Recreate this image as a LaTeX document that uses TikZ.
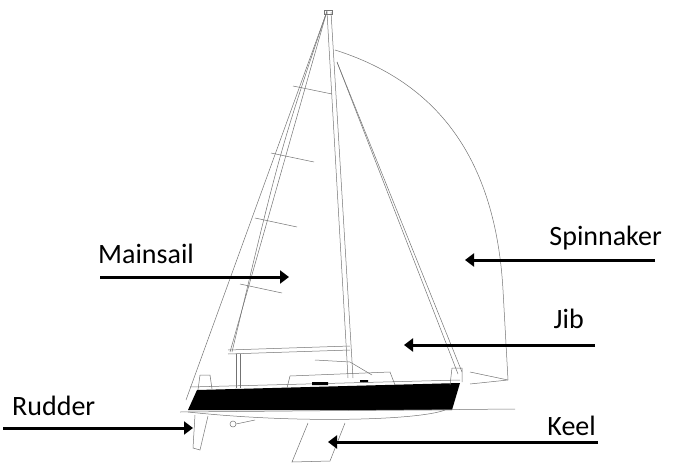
\documentclass[tikz,border=0pt]{standalone}
\usepackage{fontspec}
\setmainfont{Carlito}
\usetikzlibrary{arrows.meta}
\begin{document}
\begin{tikzpicture}[x=1pt,y=-1pt,
  thin line/.style={draw=black!55,line width=0.5pt},
  lab/.style={font=\fontsize{28}{30}\selectfont,inner sep=0pt},
  pointer/.style={line width=3pt,-{Triangle[length=9pt,width=13pt]}}]
\useasboundingbox (0,0) rectangle (677,471);
% masthead & mast
\coordinate (head) at (327,11);
\coordinate (jibhead) at (337,62);
\coordinate (spinhead) at (335,50);
\coordinate (bow) at (460,378);
\coordinate (stern) at (190,390);
\draw[thin line] (324,10) rectangle (332,14);
\draw[thin line] (327,12) -- (348,378) (331,12) -- (353,378);
% mainsail
\draw[thin line] (head) -- (230,352);
\draw[thin line] (head) .. controls (280,150) .. (232,352);
\draw[thin line] (326,14) -- (186,400);
\draw[thin line] (293,86) -- (332,94) (271,153) -- (314,162) (255,218) -- (297,227) (240,284) -- (282,293);
% boom
\draw[thin line] (228,350) -- (350,346) (228,354) -- (350,350);
\draw[thin line] (236,354) -- (236,388) (240,354) -- (240,388);
% jib / forestay
\draw[thin line] (jibhead) -- (462,372);
\draw[thin line] (jibhead) -- (458,374);
% spinnaker
\draw[thin line] (spinhead) .. controls (430,80) and (495,150) .. (503,290) -- (508,380);
\draw[thin line] (508,380) -- (470,372) (508,380) -- (470,384);
% hull
\fill (188,410) -- (197,390) -- (460,383) -- (452,410) -- cycle;
\draw[thin line] (190,387) -- (460,380);
\draw[thin line] (188,412) .. controls (300,424) and (420,420) .. (445,410);
\draw[thin line] (180,412) -- (515,409);
% cabin
\draw[thin line] (287,388) -- (290,376) -- (390,372) -- (395,385);
\fill (312,382) rectangle (328,385) (360,380) rectangle (368,382);
\draw[thin line] (315,360) -- (350,362) (350,362) -- (372,375);
% pulpits
\draw[thin line] (198,390) -- (200,375) -- (210,375) -- (212,389);
\draw[thin line] (450,385) -- (452,368) -- (462,368) -- (462,382);
% keel
\draw[thin line] (308,423) -- (292,462) -- (330,461) -- (345,423);
% rudder
\draw[thin line] (195,415) -- (193,448) -- (200,450) -- (208,416);
\draw[thin line] (233,424) circle (3) (236,424) -- (255,420);
% labels
\node[lab,anchor=base west] (main) at (98,263) {Mainsail};
\node[lab,anchor=base east] (spin) at (662,245) {Spinnaker};
\node[lab,anchor=base east] (jib) at (584,328) {Jib};
\node[lab,anchor=base west] (rud) at (12,415) {Rudder};
\node[lab,anchor=base east] (keel) at (596,435) {Keel};
\coordinate (m1) at (100,277); \coordinate (m2) at (289,277);
\coordinate (s1) at (655,260); \coordinate (s2) at (465,260);
\coordinate (j1) at (595,345); \coordinate (j2) at (404,345);
\coordinate (r1) at (3,428); \coordinate (r2) at (193,428);
\coordinate (k1) at (598,442); \coordinate (k2) at (328,442);
\draw[pointer] (m1) -- (m2);
\draw[pointer] (s1) -- (s2);
\draw[pointer] (j1) -- (j2);
\draw[pointer] (r1) -- (r2);
\draw[pointer] (k1) -- (k2);
\end{tikzpicture}
\end{document}
